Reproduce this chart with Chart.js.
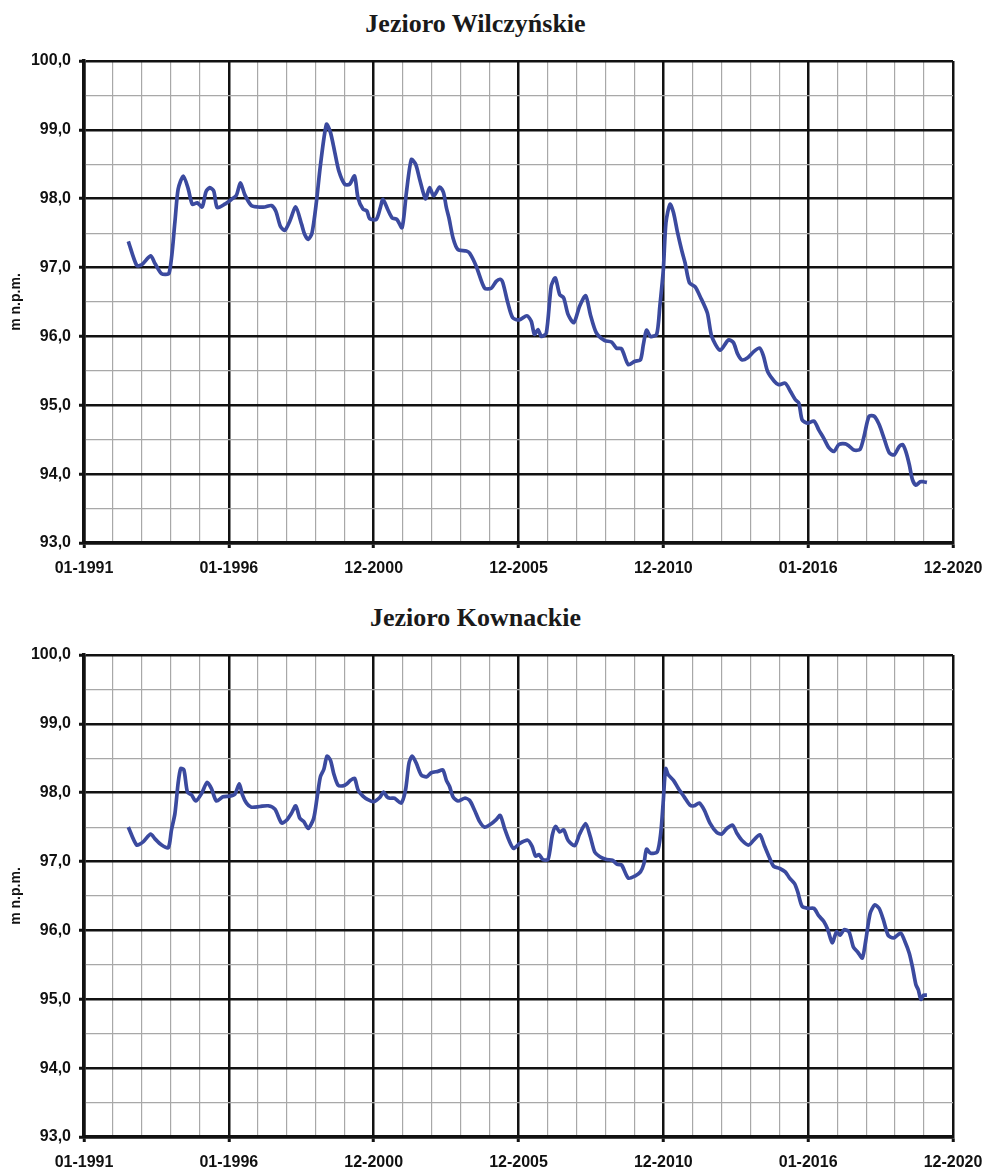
<!DOCTYPE html>
<html>
<head>
<meta charset="utf-8">
<script src="https://cdn.jsdelivr.net/npm/chart.js@4.4.1/dist/chart.umd.min.js"></script>
<style>
  html, body { margin:0; padding:0; background:#fff; }
  body { width:985px; height:1169px; position:relative; overflow:hidden; }
  .title { position:absolute; left:0; width:951px; text-align:center;
           font-family:"Liberation Serif", "Times New Roman", serif; font-weight:bold;
           font-size:26px; line-height:30px; color:#1a1a1a; }
  .box { position:absolute; left:0; width:985px; }
</style>
</head>
<body>
<div class="title" style="top:9px;">Jezioro Wilczyńskie</div>
<div class="title" style="top:603px;">Jezioro Kownackie</div>
<div class="box" style="top:0;height:590px;"><canvas id="c1" width="985" height="590"></canvas></div>
<div class="box" style="top:590px;height:579px;"><canvas id="c2" width="985" height="579"></canvas></div>
<script>
// ---- Data ----
const xTickLabels = {1991:'01-1991', 1996:'01-1996', 2001:'12-2000', 2006:'12-2005', 2011:'12-2010', 2016:'01-2016', 2021:'12-2020'};
const yAxisTitle = 'm n.p.m.';

const yearsWil = [1992.53,1992.82,1992.99,1993.30,1993.45,1993.68,1993.94,1994.14,1994.25,1994.43,1994.60,1994.74,1994.91,1995.08,1995.21,1995.34,1995.48,1995.60,1995.86,1996.09,1996.26,1996.40,1996.55,1996.78,1997.01,1997.24,1997.47,1997.62,1997.78,1997.93,1998.10,1998.31,1998.51,1998.62,1998.74,1998.87,1999.02,1999.16,1999.37,1999.51,1999.66,1999.80,2000.00,2000.17,2000.34,2000.46,2000.63,2000.77,2000.86,2001.09,2001.23,2001.32,2001.49,2001.64,2001.80,2001.98,2002.13,2002.30,2002.45,2002.59,2002.79,2002.93,2003.07,2003.28,2003.41,2003.51,2003.60,2003.74,2003.91,2004.20,2004.31,2004.54,2004.83,2005.06,2005.23,2005.37,2005.46,2005.63,2005.80,2006.03,2006.29,2006.44,2006.55,2006.67,2006.79,2006.96,2007.13,2007.27,2007.42,2007.56,2007.71,2007.91,2008.11,2008.32,2008.48,2008.69,2008.98,2009.21,2009.38,2009.56,2009.79,2010.02,2010.21,2010.31,2010.42,2010.56,2010.77,2010.88,2011.00,2011.09,2011.23,2011.35,2011.49,2011.64,2011.75,2011.90,2012.10,2012.27,2012.52,2012.67,2012.96,2013.25,2013.42,2013.56,2013.71,2013.91,2014.12,2014.33,2014.46,2014.60,2014.83,2014.98,2015.21,2015.39,2015.56,2015.68,2015.79,2015.97,2016.20,2016.37,2016.54,2016.72,2016.89,2017.06,2017.29,2017.41,2017.58,2017.79,2017.93,2018.10,2018.28,2018.45,2018.62,2018.80,2018.97,2019.14,2019.26,2019.37,2019.49,2019.60,2019.72,2019.87,2019.98,2020.10];
const levelsWil = [97.38,97.03,97.04,97.17,97.06,96.91,96.92,97.67,98.14,98.33,98.14,97.92,97.94,97.88,98.10,98.16,98.11,97.87,97.92,97.99,98.05,98.23,98.06,97.90,97.88,97.88,97.90,97.82,97.60,97.54,97.67,97.88,97.63,97.48,97.41,97.50,97.94,98.48,99.08,98.96,98.67,98.40,98.21,98.21,98.33,98.01,97.85,97.82,97.71,97.70,97.87,97.99,97.84,97.72,97.70,97.58,98.09,98.57,98.50,98.28,98.00,98.16,98.04,98.17,98.09,97.87,97.72,97.43,97.26,97.24,97.21,97.02,96.70,96.70,96.80,96.83,96.78,96.49,96.27,96.24,96.30,96.22,96.03,96.10,96.00,96.05,96.73,96.85,96.61,96.56,96.32,96.20,96.44,96.59,96.32,96.05,95.94,95.92,95.83,95.82,95.59,95.64,95.66,95.88,96.09,96.00,96.03,96.44,96.97,97.65,97.92,97.80,97.51,97.24,97.07,96.78,96.72,96.58,96.34,96.00,95.80,95.95,95.91,95.75,95.66,95.69,95.78,95.83,95.71,95.49,95.35,95.30,95.32,95.20,95.08,95.03,94.79,94.74,94.77,94.64,94.52,94.38,94.33,94.43,94.44,94.41,94.35,94.36,94.55,94.84,94.84,94.72,94.52,94.31,94.28,94.40,94.43,94.33,94.14,93.92,93.84,93.89,93.89,93.88];

const yearsKow = [1992.53,1992.82,1993.05,1993.30,1993.45,1993.68,1993.91,1994.02,1994.14,1994.25,1994.34,1994.45,1994.57,1994.71,1994.86,1995.06,1995.25,1995.40,1995.57,1995.80,1996.03,1996.21,1996.36,1996.47,1996.61,1996.78,1997.07,1997.36,1997.59,1997.82,1997.99,1998.16,1998.31,1998.45,1998.59,1998.74,1998.93,1999.05,1999.16,1999.28,1999.39,1999.51,1999.62,1999.77,1999.94,2000.08,2000.20,2000.34,2000.46,2000.63,2000.80,2001.00,2001.21,2001.34,2001.46,2001.57,2001.72,2001.95,2002.10,2002.22,2002.33,2002.47,2002.64,2002.82,2002.99,2003.22,2003.39,2003.51,2003.62,2003.74,2003.91,2004.14,2004.31,2004.48,2004.66,2004.83,2005.06,2005.23,2005.37,2005.52,2005.69,2005.83,2006.03,2006.32,2006.47,2006.59,2006.71,2006.84,2007.02,2007.17,2007.28,2007.42,2007.56,2007.71,2007.94,2008.11,2008.32,2008.48,2008.63,2008.81,2009.04,2009.24,2009.41,2009.56,2009.79,2010.02,2010.21,2010.33,2010.42,2010.56,2010.79,2010.91,2011.00,2011.08,2011.17,2011.35,2011.52,2011.72,2011.92,2012.06,2012.24,2012.41,2012.62,2012.85,2013.02,2013.19,2013.39,2013.54,2013.71,2013.94,2014.12,2014.33,2014.49,2014.67,2014.81,2015.02,2015.21,2015.36,2015.53,2015.64,2015.79,2015.99,2016.20,2016.37,2016.54,2016.68,2016.83,2016.98,2017.10,2017.24,2017.41,2017.56,2017.72,2017.87,2017.99,2018.14,2018.30,2018.45,2018.60,2018.76,2018.94,2019.08,2019.20,2019.34,2019.49,2019.60,2019.72,2019.80,2019.89,2019.99,2020.10];
const levelsKow = [97.50,97.24,97.29,97.40,97.33,97.24,97.20,97.46,97.70,98.14,98.35,98.33,98.01,97.97,97.88,97.99,98.15,98.06,97.88,97.94,97.95,97.98,98.13,97.97,97.85,97.79,97.80,97.81,97.76,97.56,97.60,97.70,97.81,97.63,97.58,97.48,97.63,97.94,98.23,98.34,98.53,98.47,98.28,98.11,98.10,98.13,98.18,98.21,98.04,97.95,97.90,97.87,97.93,98.01,97.94,97.92,97.92,97.85,98.04,98.43,98.53,98.43,98.26,98.23,98.29,98.31,98.33,98.18,98.09,97.94,97.88,97.92,97.89,97.75,97.58,97.50,97.55,97.61,97.67,97.48,97.29,97.19,97.26,97.31,97.22,97.08,97.10,97.03,97.03,97.39,97.51,97.43,97.46,97.31,97.23,97.40,97.55,97.36,97.14,97.07,97.03,97.02,96.96,96.95,96.76,96.79,96.85,96.97,97.18,97.12,97.14,97.41,97.89,98.35,98.26,98.18,98.06,97.94,97.82,97.81,97.85,97.75,97.55,97.42,97.40,97.48,97.53,97.41,97.31,97.24,97.31,97.39,97.23,97.05,96.93,96.90,96.85,96.76,96.68,96.56,96.35,96.32,96.32,96.21,96.13,96.01,95.82,95.98,95.93,96.01,95.98,95.76,95.68,95.60,95.86,96.25,96.37,96.32,96.15,95.93,95.89,95.93,95.96,95.84,95.67,95.47,95.21,95.14,95.00,95.06,95.06];

// ---- Chart builder ----
const LINE_COLOR = '#3b4a9f';
const TICK_FONT = {family:'"Liberation Sans", Arial, sans-serif', weight:'bold', size:16};

function isMajorX(v){ return Math.abs(((Math.round(v) - 1991) % 5)) === 0; }
function isMajorY(v){ return Math.abs(v - Math.round(v)) < 1e-6; }

function makeChart(id, years, levels, padTop, xAxisHeight){
  const pts = years.map((x,i)=>({x:x, y:levels[i]}));
  return new Chart(document.getElementById(id), {
    type:'line',
    data:{ datasets:[{ data:pts, borderColor:LINE_COLOR, borderWidth:3.7, pointRadius:0,
                       tension:0.25, fill:false }] },
    options:{
      responsive:false, animation:false, devicePixelRatio:1,
      layout:{ padding:{ top:padTop, right:32, left:0, bottom:0 } },
      plugins:{ legend:{display:false}, tooltip:{enabled:false}, title:{display:false} },
      scales:{
        x:{
          type:'linear', min:1991, max:2021,
          afterFit:(s)=>{ s.height = xAxisHeight; s.paddingLeft = 0; s.paddingRight = 0; },
          ticks:{ stepSize:1, autoSkip:false, maxRotation:0, minRotation:0, padding:11,
                  color:'#111', font:TICK_FONT,
                  callback:(v)=> (xTickLabels[Math.round(v)] || '') },
          grid:{
            color:(c)=> isMajorX(c.tick.value) ? '#111' : '#a8a8a8',
            lineWidth:(c)=> isMajorX(c.tick.value) ? 2.5 : 1.2,
            tickColor:(c)=> isMajorX(c.tick.value) ? '#111' : 'rgba(0,0,0,0)',
            tickLength:5, tickWidth:3
          },
          border:{ color:'#111', width:3.5 }
        },
        y:{
          min:93, max:100,
          afterFit:(s)=>{ s.width = 84; s.paddingTop = 0; s.paddingBottom = 0; },
          ticks:{ stepSize:0.5, autoSkip:false, padding:8, color:'#111', font:TICK_FONT,
                  callback:(v)=> isMajorY(v) ? v.toFixed(1).replace('.', ',') : '' },
          grid:{
            color:(c)=> isMajorY(c.tick.value) ? '#111' : '#a8a8a8',
            lineWidth:(c)=> isMajorY(c.tick.value) ? 2.5 : 1.2,
            tickColor:(c)=> isMajorY(c.tick.value) ? '#111' : 'rgba(0,0,0,0)',
            tickLength:5, tickWidth:3
          },
          border:{ color:'#111', width:3.5 },
          title:{ display:true, text:yAxisTitle, color:'#111',
                  font:{family:'"Liberation Sans", Arial, sans-serif', weight:'bold', size:14},
                  padding:{top:8, bottom:0} }
        }
      }
    }
  });
}

makeChart('c1', yearsWil, levelsWil, 61, 47);
makeChart('c2', yearsKow, levelsKow, 65, 32);
</script>
</body>
</html>
